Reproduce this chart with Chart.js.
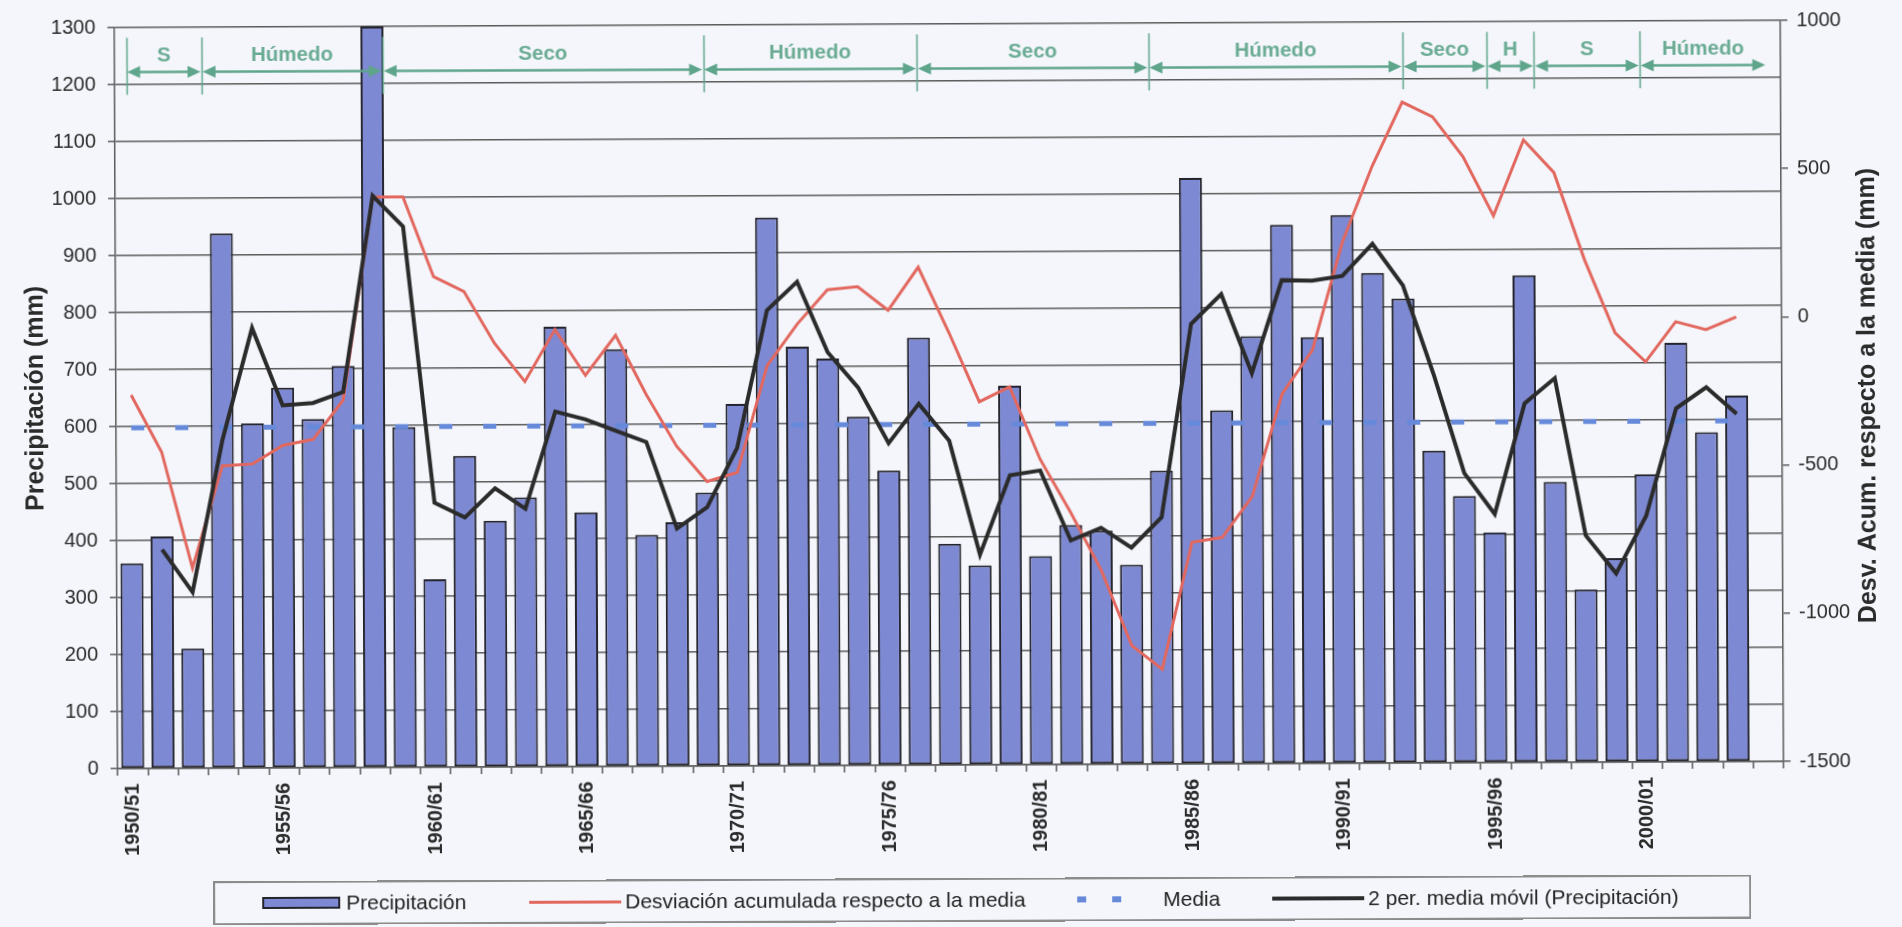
<!DOCTYPE html>
<html>
<head>
<meta charset="utf-8">
<title>Precipitación anual</title>
<script src="https://cdn.jsdelivr.net/npm/chart.js@4.4.1/dist/chart.umd.min.js"></script>
<style>
  html, body { margin: 0; padding: 0; background: #f4f6fb; overflow: hidden; }
  #wrap {
    position: relative; width: 1902px; height: 927px;
    transform: rotate(-0.25deg); transform-origin: 951px 394px;
  }
  #legend {
    position: absolute; left: 211px; top: 878px; width: 1538px; height: 44px;
    box-sizing: border-box; border: 2px solid #8c8c8c;
    font: 21px "Liberation Sans", Arial, sans-serif; color: #222;
  }
  #legend .item { position: absolute; top: 0; height: 100%; display: flex; align-items: center; white-space: nowrap; }
  #legend .sym { box-sizing: border-box; }
</style>
</head>
<body>
<div id="wrap">
  <canvas id="chart" width="1902" height="927"></canvas>
  <div id="legend"></div>
</div>
<script>
const FONT = '"Liberation Sans", Arial, sans-serif';

// hydrological years (last slot is left empty on the axis)
const years = [
  '1950/51', '1951/52', '1952/53', '1953/54', '1954/55', '1955/56', '1956/57', '1957/58', '1958/59', '1959/60',
  '1960/61', '1961/62', '1962/63', '1963/64', '1964/65', '1965/66', '1966/67', '1967/68', '1968/69', '1969/70',
  '1970/71', '1971/72', '1972/73', '1973/74', '1974/75', '1975/76', '1976/77', '1977/78', '1978/79', '1979/80',
  '1980/81', '1981/82', '1982/83', '1983/84', '1984/85', '1985/86', '1986/87', '1987/88', '1988/89', '1989/90',
  '1990/91', '1991/92', '1992/93', '1993/94', '1994/95', '1995/96', '1996/97', '1997/98', '1998/99', '1999/00',
  '2000/01', '2001/02', '2002/03', '2003/04', '2004/05'
];

// annual precipitation (mm)
const precipitation = [
  360, 407, 210, 938, 605, 667, 612, 705, 1300, 597,
  330, 546, 432, 473, 772, 446, 732, 406, 428, 480,
  635, 962, 735, 714, 612, 517, 750, 388, 350, 665,
  366, 420, 410, 350, 515, 1028, 620, 750, 945, 748,
  962, 860, 815, 548, 468, 404, 855, 492, 303, 358,
  505, 735, 578, 642
];

// 2-period moving average (mm)
const movingAverage = [
  null, 384, 309, 574, 772, 636, 640, 659, 1003, 949,
  464, 438, 489, 453, 623, 609, 589, 569, 417, 454,
  558, 799, 849, 725, 663, 565, 634, 569, 369, 508,
  516, 393, 415, 380, 433, 772, 824, 685, 848, 847,
  855, 911, 838, 682, 508, 436, 630, 674, 398, 331,
  432, 620, 657, 610
];

// accumulated deviation from the mean (mm)
const accumulatedDeviation = [
  -240, -433, -824, -480, -474, -412, -392, -260, 425, 425,
  155, 105, -70, -200, -25, -180, -45, -245, -420, -540,
  -510, -150, -10, 105, 115, 35, 180, -40, -275, -225,
  -470, -650, -845, -1100, -1180, -752, -736, -598, -252, -106,
  256, 514, 730, 680, 545, 345, 600, 490, 195, -52,
  -150, -15, -42, 0
];

const mean = 598;

// wet / dry periods, bounds in category units
const periodBounds = [-0.12, 2.37, 8.35, 18.93, 25.99, 33.63, 42.02, 44.79, 46.36, 49.85, 54.03];
const periodNames = ['S', 'Húmedo', 'Seco', 'Húmedo', 'Seco', 'Húmedo', 'Seco', 'H', 'S', 'Húmedo'];

const periodsPlugin = {
  id: 'periods',
  afterDatasetsDraw(chart) {
    const { ctx, scales: { x, y } } = chart;
    const col = '#5ea58b';
    const yArrow = y.getPixelForValue(1222);
    const yTop = y.getPixelForValue(1282);
    const yBot = y.getPixelForValue(1182);
    const yText = y.getPixelForValue(1250);
    ctx.save();
    ctx.strokeStyle = col;
    ctx.fillStyle = col;
    // separators
    ctx.lineWidth = 1.5;
    periodBounds.slice(0, -1).forEach(b => {
      const px = Math.round(x.getPixelForValue(b)) + 0.5;
      ctx.beginPath();
      ctx.moveTo(px, yTop);
      ctx.lineTo(px, yBot);
      ctx.stroke();
    });
    // double arrows with the period name above
    const head = 13, half = 6;
    ctx.font = 'bold 20.5px ' + FONT;
    ctx.textAlign = 'center';
    ctx.textBaseline = 'middle';
    for (let i = 0; i < periodNames.length; i++) {
      const a = x.getPixelForValue(periodBounds[i]) + 1;
      const b = x.getPixelForValue(periodBounds[i + 1]) - 1;
      ctx.lineWidth = 2.5;
      ctx.beginPath();
      ctx.moveTo(a + head - 1, yArrow);
      ctx.lineTo(b - head + 1, yArrow);
      ctx.stroke();
      ctx.beginPath();
      ctx.moveTo(a, yArrow);
      ctx.lineTo(a + head, yArrow - half);
      ctx.lineTo(a + head, yArrow + half);
      ctx.closePath();
      ctx.fill();
      ctx.beginPath();
      ctx.moveTo(b, yArrow);
      ctx.lineTo(b - head, yArrow - half);
      ctx.lineTo(b - head, yArrow + half);
      ctx.closePath();
      ctx.fill();
      ctx.fillStyle = '#6aab93';
      const mid = x.getPixelForValue((periodBounds[i] + periodBounds[i + 1]) / 2);
      ctx.fillText(periodNames[i], mid, yText);
      ctx.fillStyle = col;
    }
    ctx.restore();
  }
};

// right axis title reads bottom-to-top like the left one
const rightTitlePlugin = {
  id: 'rightTitle',
  afterDraw(chart) {
    const { ctx, chartArea } = chart;
    ctx.save();
    ctx.translate(1868, (chartArea.top + chartArea.bottom) / 2 + 5);
    ctx.rotate(-Math.PI / 2);
    ctx.font = 'bold 25px ' + FONT;
    ctx.fillStyle = '#2b2b2b';
    ctx.textAlign = 'center';
    ctx.textBaseline = 'middle';
    ctx.fillText('Desv. Acum. respecto a la media (mm)', 0, 0);
    ctx.restore();
  }
};

const gridColor = '#5b5b5b';

const chart = new Chart(document.getElementById('chart'), {
  data: {
    labels: years,
    datasets: [
      {
        type: 'line',
        label: '2 per. media móvil (Precipitación)',
        data: movingAverage,
        yAxisID: 'y',
        borderColor: '#2b2b2b',
        borderWidth: 4,
        pointRadius: 0,
        order: 1
      },
      {
        type: 'line',
        label: 'Desviación acumulada respecto a la media',
        data: accumulatedDeviation,
        yAxisID: 'y1',
        borderColor: '#e2685f',
        borderWidth: 3,
        pointRadius: 0,
        order: 2
      },
      {
        type: 'line',
        label: 'Media',
        data: [{ x: years[0], y: mean }, { x: years[precipitation.length - 1], y: mean }],
        yAxisID: 'y',
        borderColor: '#6689da',
        borderWidth: 5,
        borderDash: [13, 31],
        borderCapStyle: 'butt',
        pointRadius: 0,
        order: 3
      },
      {
        type: 'bar',
        label: 'Precipitación',
        data: precipitation,
        yAxisID: 'y',
        backgroundColor: '#7d89d2',
        borderColor: '#24242e',
        borderWidth: 2,
        borderSkipped: false,
        categoryPercentage: 1,
        barPercentage: 0.76,
        order: 4
      }
    ]
  },
  options: {
    responsive: false,
    animation: false,
    events: [],
    layout: { padding: { top: 23, left: 0, right: 0, bottom: 0 } },
    plugins: {
      legend: { display: false },
      tooltip: { enabled: false }
    },
    scales: {
      x: {
        offset: true,
        grid: { offset: true, drawOnChartArea: false, tickLength: 7, color: gridColor, lineWidth: 1.5 },
        border: { color: gridColor, width: 1.5 },
        ticks: {
          autoSkip: false,
          minRotation: 90,
          maxRotation: 90,
          padding: 8,
          color: '#2b2b2b',
          font: { family: FONT, size: 20, weight: 'bold' },
          callback: (v, i) => (i % 5 === 0 ? years[i] : '')
        },
        afterFit: s => { s.height = 162; }
      },
      y: {
        position: 'left',
        min: 0,
        max: 1300,
        ticks: { stepSize: 100, padding: 12, color: '#2b2b2b', font: { family: FONT, size: 20 }, callback: v => String(v) },
        grid: { color: gridColor, lineWidth: 1.5, tickLength: 7 },
        border: { color: gridColor, width: 1.5 },
        title: {
          display: true,
          text: 'Precipitación (mm)',
          color: '#2b2b2b',
          font: { family: FONT, size: 25, weight: 'bold' },
          padding: { top: 21, bottom: 0 }
        },
        afterFit: s => { s.width = 116; }
      },
      y1: {
        position: 'right',
        min: -1500,
        max: 1000,
        ticks: { stepSize: 500, padding: 9, color: '#2b2b2b', font: { family: FONT, size: 20 }, callback: v => String(v) },
        grid: { drawOnChartArea: false, color: gridColor, lineWidth: 1.5, tickLength: 7 },
        border: { color: gridColor, width: 1.5 },
        afterFit: s => { s.width = 120; }
      }
    }
  },
  plugins: [periodsPlugin, rightTitlePlugin]
});

// legend below the chart, built from the datasets
const legendOrder = ['Precipitación', 'Desviación acumulada respecto a la media', 'Media', '2 per. media móvil (Precipitación)'];
const legendLeft = [47, 314, 862, 1057];
const legendEl = document.getElementById('legend');
legendOrder.forEach((name, i) => {
  const ds = chart.data.datasets.find(d => d.label === name);
  const item = document.createElement('div');
  item.className = 'item';
  item.style.left = legendLeft[i] + 'px';
  const sym = document.createElement('div');
  sym.className = 'sym';
  if (ds.type === 'bar') {
    Object.assign(sym.style, { width: '78px', height: '12px', background: ds.backgroundColor, border: '2px solid ' + ds.borderColor, marginRight: '6px' });
  } else if (ds.borderDash) {
    Object.assign(sym.style, {
      width: '44px', height: '6px', marginRight: '42px',
      background: `linear-gradient(to right, ${ds.borderColor} 0 9px, transparent 9px 35px, ${ds.borderColor} 35px 44px)`
    });
  } else {
    Object.assign(sym.style, { width: i === 1 ? '92px' : '92px', height: ds.borderWidth + 'px', background: ds.borderColor, marginRight: '4px' });
  }
  item.appendChild(sym);
  item.appendChild(document.createTextNode(ds.label));
  legendEl.appendChild(item);
});
</script>
</body>
</html>
